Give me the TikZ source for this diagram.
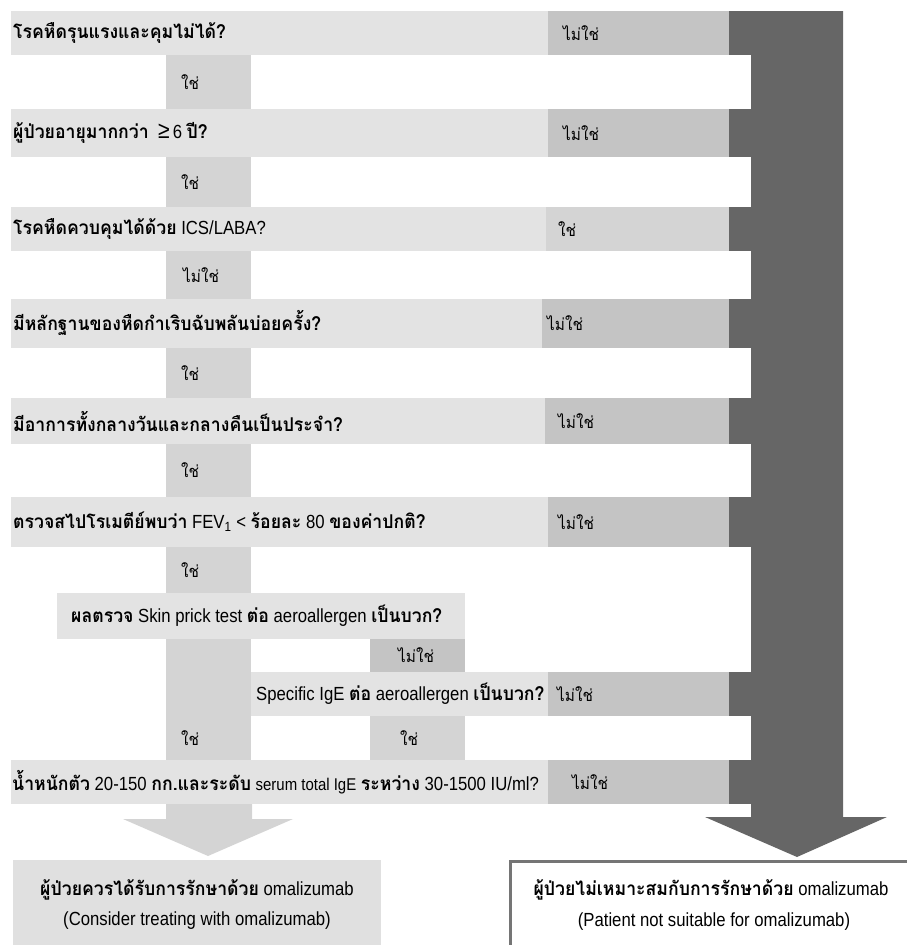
\documentclass[tikz,border=0pt]{standalone}
\usepackage{fontspec}
\setmainfont{Liberation Sans}[FakeStretch=0.88]
\newfontfamily\thaifont[Script=Thai,FakeStretch=0.93]{Loma}
\newcommand{\ThR}[1]{{\thaifont #1}}
\newcommand{\ThB}[1]{{\thaifont\bfseries #1}}
\definecolor{lightc}{HTML}{E3E3E3}
\definecolor{yesc}{HTML}{D4D4D4}
\definecolor{noc}{HTML}{C4C4C4}
\definecolor{darkc}{HTML}{666666}
\definecolor{boxc}{HTML}{E0E0E0}
\begin{document}
\begin{tikzpicture}[x=1pt,y=-1pt,
  qtext/.style={anchor=west,inner sep=0pt,font=\fontsize{19}{22}\selectfont},
  ltext/.style={anchor=west,inner sep=0pt,font=\fontsize{16.5}{20}\selectfont},
  btext/.style={anchor=center,inner sep=0pt,font=\fontsize{19}{22}\selectfont,align=center},
]
\useasboundingbox (0,0) rectangle (907,945);
% dark path (shaft + head)
\fill[darkc] (751,11) -- (843,11) -- (843,817) -- (887,817) -- (797,857) -- (705,817) -- (751,817) -- cycle;
% light arrow
\fill[yesc] (166,804) -- (252,804) -- (252,819) -- (293,819) -- (208,856) -- (123,819) -- (166,819) -- cycle;
% yes columns (gaps)
\fill[yesc] (166,55) rectangle (251,109);
\fill[yesc] (166,157) rectangle (251,207);
\fill[yesc] (166,251) rectangle (251,299);
\fill[yesc] (166,348) rectangle (251,398);
\fill[yesc] (166,444) rectangle (251,497);
\fill[yesc] (166,547) rectangle (251,593);
\fill[yesc] (166,639) rectangle (251,760);
\fill[yesc] (370,716) rectangle (465,760);
\fill[noc] (370,639) rectangle (465,672);
% rows
\foreach \ya/\yb/\xm/\cm in {11/55/548/noc, 109/157/548/noc, 207/251/546/yesc, 299/348/542/noc, 398/444/545/noc, 497/547/548/noc, 760/804/548/noc}{
  \fill[lightc] (11,\ya) rectangle (\xm,\yb);
  \fill[\cm] (\xm,\ya) rectangle (729,\yb);
  \fill[darkc] (729,\ya) rectangle (843,\yb);
}
\fill[lightc] (57,593) rectangle (465,639);
\fill[lightc] (251,672) rectangle (548,716);
\fill[noc] (548,672) rectangle (729,716);
\fill[darkc] (729,672) rectangle (843,716);
% bottom boxes
\fill[boxc] (13,860) rectangle (381,945);
\fill[white] (509,860) rectangle (907,945);
\draw[line width=3pt,draw=darkc!90] (510.5,945) |- (907,861.5);

% question texts
\node[qtext] (q1) at (13,33) {\ThB{โรคหืดรุนแรงและคุมไม่ได้?}};
\node[qtext] (q2) at (13,133) {\ThB{ผู้ป่วยอายุมากกว่า}\ \ {\fontsize{24}{24}\selectfont ≥}\,6 \ThB{ปี?}};
\node[qtext] (q3) at (13,229) {\ThB{โรคหืดควบคุมได้ด้วย} ICS/LABA?};
\node[qtext] (q4) at (13,323) {\ThB{มีหลักฐานของหืดกำเริบฉับพลันบ่อยครั้ง?}};
\node[qtext] (q5) at (13,421) {\ThB{มีอาการทั้งกลางวันและกลางคืนเป็นประจำ?}};
\node[qtext] (q6) at (13,522) {\ThB{ตรวจสไปโรเมตีย์พบว่า} FEV\textsubscript{1} < \ThB{ร้อยละ} 80 \ThB{ของค่าปกติ?}};
\node[qtext] (q7) at (71,616) {\ThB{ผลตรวจ} Skin prick test \ThB{ต่อ} aeroallergen \ThB{เป็นบวก?}};
\node[qtext] (q8) at (256,694) {Specific IgE \ThB{ต่อ} aeroallergen \ThB{เป็นบวก?}};
\node[qtext] (q9) at (12,782) {\ThB{น้ำหนักตัว} 20-150 \ThB{กก.และระดับ} {\fontsize{17}{20}\selectfont serum total IgE} \ThB{ระหว่าง} 30-1500 IU/ml?};

% right-side labels
\node[ltext] (n1) at (563,33) {\ThR{ไม่ใช่}};
\node[ltext] (n2) at (563,133) {\ThR{ไม่ใช่}};
\node[ltext] (n3) at (558,229) {\ThR{ใช่}};
\node[ltext] (n4) at (547,323) {\ThR{ไม่ใช่}};
\node[ltext] (n5) at (558,421) {\ThR{ไม่ใช่}};
\node[ltext] (n6) at (558,522) {\ThR{ไม่ใช่}};
\node[ltext] (n8) at (557,694) {\ThR{ไม่ใช่}};
\node[ltext] (n9) at (572,782) {\ThR{ไม่ใช่}};
\node[ltext] (n7) at (398,655.5) {\ThR{ไม่ใช่}};

% down labels
\node[ltext] (y1) at (181,82) {\ThR{ใช่}};
\node[ltext] (y2) at (181,182) {\ThR{ใช่}};
\node[ltext] (y3) at (183,275) {\ThR{ไม่ใช่}};
\node[ltext] (y4) at (181,373) {\ThR{ใช่}};
\node[ltext] (y5) at (181,470) {\ThR{ใช่}};
\node[ltext] (y6) at (181,570) {\ThR{ใช่}};
\node[ltext] (y7) at (181,738) {\ThR{ใช่}};
\node[ltext] (y8) at (400,738) {\ThR{ใช่}};

% outcome texts
\node[btext] (r1a) at (197,890) {\ThB{ผู้ป่วยควรได้รับการรักษาด้วย} omalizumab};
\node[btext] (r1b) at (197,921) {(Consider treating with omalizumab)};
\node[btext] (r2a) at (711,890) {\ThB{ผู้ป่วยไม่เหมาะสมกับการรักษาด้วย} omalizumab};
\node[btext] (r2b) at (714,922) {(Patient not suitable for omalizumab)};
\end{tikzpicture}
\end{document}
